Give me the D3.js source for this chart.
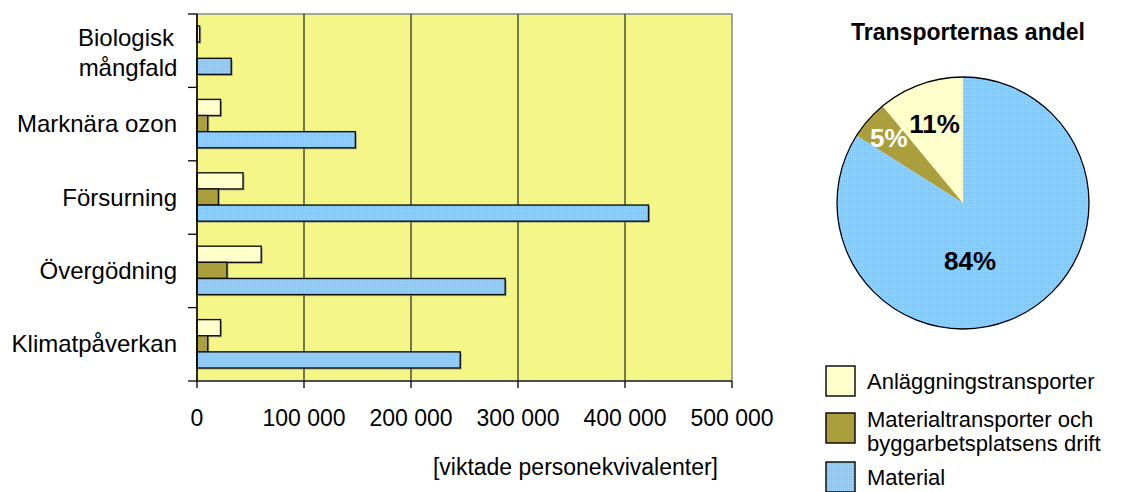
<!DOCTYPE html>
<html>
<head>
<meta charset="utf-8">
<script src="https://cdn.jsdelivr.net/npm/d3@7"></script>
<style>
  body { margin: 0; background: #fff; }
  text { font-family: "Liberation Sans", Arial, sans-serif; fill: #000; }
</style>
</head>
<body>
<svg id="chart" width="1123" height="492"></svg>
<script>
// categories, top to bottom
var categories = ["Biologisk mångfald", "Marknära ozon", "Försurning", "Övergödning", "Klimatpåverkan"];
var seriesNames = ["Anläggningstransporter", "Materialtransporter och byggarbetsplatsens drift", "Material"];
// weighted person-equivalents
var anlaggning = [2500, 22000, 43000, 60000, 22000];
var materialtransp = [0, 10000, 20000, 28000, 10000];
var material = [32000, 148000, 422000, 288000, 246000];
var xTicks = [0, 100000, 200000, 300000, 400000, 500000];
// pie, clockwise from 12 o'clock: Material, Materialtransporter, Anläggning
var pieNames = ["Material", "Materialtransporter", "Anläggningstransporter"];
var pieShares = [84, 5, 11];

var colors = ["#ffffcc", "#aa9f3c", "url(#dots)"];
var svg = d3.select("#chart");

// dotted blue fill like the original
var pat = svg.append("defs").append("pattern")
  .attr("id", "dots").attr("width", 2).attr("height", 2)
  .attr("patternUnits", "userSpaceOnUse");
pat.append("rect").attr("width", 2).attr("height", 2).attr("fill", "#80c8ff");
pat.append("rect").attr("width", 1).attr("height", 1).attr("fill", "#a6d9ff");

/* bar chart */
var x = d3.scaleLinear().domain([0, 500000]).range([197, 732]);
var y0 = d3.scaleBand().domain(categories).range([14, 381]);
var y1 = d3.scaleBand().domain(d3.range(3)).range([12, y0.bandwidth() - 13]);

svg.append("rect")
  .attr("x", x(0)).attr("y", y0.range()[0])
  .attr("width", x(500000) - x(0)).attr("height", y0.range()[1] - y0.range()[0])
  .attr("fill", "#f4f788").attr("stroke", "#888").attr("stroke-width", 1.5);

svg.selectAll(".grid").data(xTicks.slice(1, -1)).enter().append("line")
  .attr("x1", function (d) { return x(d); }).attr("x2", function (d) { return x(d); })
  .attr("y1", 14).attr("y2", 381)
  .attr("stroke", "#333").attr("stroke-width", 1.3);

var rows = categories.map(function (c, i) {
  return [anlaggning[i], materialtransp[i], material[i]];
});

var groups = svg.selectAll(".cat").data(rows).enter().append("g")
  .attr("transform", function (d, i) { return "translate(0," + y0(categories[i]) + ")"; });

// shadows
groups.selectAll(".shadow").data(function (d) { return d; }).enter().append("rect")
  .attr("x", x(0) + 1.5)
  .attr("y", function (d, j) { return y1(j) + 1.5; })
  .attr("width", function (d) { return d > 0 ? x(d) - x(0) : 0; })
  .attr("height", y1.bandwidth())
  .attr("fill", "#777").attr("opacity", 0.6);

groups.selectAll(".bar").data(function (d) { return d; }).enter().append("rect")
  .attr("x", x(0))
  .attr("y", function (d, j) { return y1(j); })
  .attr("width", function (d) { return x(d) - x(0); })
  .attr("height", y1.bandwidth())
  .attr("fill", function (d, j) { return colors[j]; })
  .attr("stroke", "#111").attr("stroke-width", function (d) { return d > 0 ? 1.4 : 0; });

// axes
svg.append("line").attr("x1", x(0)).attr("x2", x(0)).attr("y1", 14).attr("y2", 381)
  .attr("stroke", "#000").attr("stroke-width", 1.5);
svg.append("line").attr("x1", x(0)).attr("x2", x(500000)).attr("y1", 381).attr("y2", 381)
  .attr("stroke", "#333").attr("stroke-width", 1.5);

var yEdges = categories.map(function (c) { return y0(c); }).concat([y0.range()[1]]);
svg.selectAll(".ytick").data(yEdges).enter().append("line")
  .attr("x1", x(0) - 9).attr("x2", x(0))
  .attr("y1", function (d) { return d; }).attr("y2", function (d) { return d; })
  .attr("stroke", "#000").attr("stroke-width", 1.3);

svg.selectAll(".xtick").data(xTicks).enter().append("line")
  .attr("x1", function (d) { return x(d); }).attr("x2", function (d) { return x(d); })
  .attr("y1", 381).attr("y2", 388)
  .attr("stroke", "#000").attr("stroke-width", 1.3);

var fmt = function (d) { return d3.format(",")(d).replace(/,/g, " "); };
svg.selectAll(".xlab").data(xTicks).enter().append("text")
  .attr("x", function (d) { return x(d); }).attr("y", 426)
  .attr("text-anchor", "middle").style("font-size", "23px")
  .text(fmt);

svg.append("text").attr("x", 718).attr("y", 475).attr("text-anchor", "end")
  .style("font-size", "23px").text("[viktade personekvivalenter]");

// category labels
categories.forEach(function (c, i) {
  var cy = y0(c) + y0.bandwidth() / 2;
  if (c === "Biologisk mångfald") {
    var t = svg.append("text").attr("text-anchor", "middle").style("font-size", "24px");
    t.append("tspan").attr("x", 126).attr("y", cy - 5).text("Biologisk");
    t.append("tspan").attr("x", 128).attr("y", cy + 25).text("mångfald");
  } else {
    svg.append("text").attr("x", 177).attr("y", cy + 8)
      .attr("text-anchor", "end").style("font-size", "24px").text(c);
  }
});

/* pie */
var cx = 963, cy = 203, r = 126;
svg.append("text").attr("x", 968).attr("y", 40).attr("text-anchor", "middle")
  .style("font-size", "23px").style("font-weight", "bold").text("Transporternas andel");

var pie = d3.pie().sort(null)(pieShares);
var arc = d3.arc().innerRadius(0).outerRadius(r);
var pieColors = ["url(#dots)", "#aa9f3c", "#ffffcc"];
var pg = svg.append("g").attr("transform", "translate(" + cx + "," + cy + ")");
pg.selectAll("path").data(pie).enter().append("path")
  .attr("d", arc).attr("fill", function (d, i) { return pieColors[i]; });
pg.append("circle").attr("r", r).attr("fill", "none").attr("stroke", "#000").attr("stroke-width", 1.3);

// label spots: radius and angle shift (Excel puts the big one lower)
var labelR = [58, 99, 84];
var labelShift = [0.38, 0, 0];
pg.selectAll(".pct").data(pie).enter().append("text")
  .attr("transform", function (d, i) {
    var a = (d.startAngle + d.endAngle) / 2 + labelShift[i];
    return "translate(" + (labelR[i] * Math.sin(a)) + "," + (-labelR[i] * Math.cos(a) + 9) + ")";
  })
  .attr("text-anchor", "middle")
  .style("font-size", "26px").style("font-weight", "bold")
  .style("fill", function (d, i) { return i === 1 ? "#fff" : "#000"; })
  .text(function (d) { return d.data + "%"; });

/* legend */
var legY = [366, 413, 462];
var leg = svg.selectAll(".leg").data(seriesNames).enter().append("g");
leg.append("rect")
  .attr("x", 826).attr("y", function (d, i) { return legY[i]; })
  .attr("width", 29).attr("height", 30)
  .attr("fill", function (d, i) { return colors[i]; })
  .attr("stroke", "#000").attr("stroke-width", 1.4);
leg.each(function (d, i) {
  var t = d3.select(this).append("text").style("font-size", "22px");
  if (i === 1) {
    t.append("tspan").attr("x", 867).attr("y", 427).text("Materialtransporter och");
    t.append("tspan").attr("x", 867).attr("y", 451).text("byggarbetsplatsens drift");
  } else {
    t.attr("x", 867).attr("y", legY[i] + 23).text(d);
  }
});
</script>
</body>
</html>
